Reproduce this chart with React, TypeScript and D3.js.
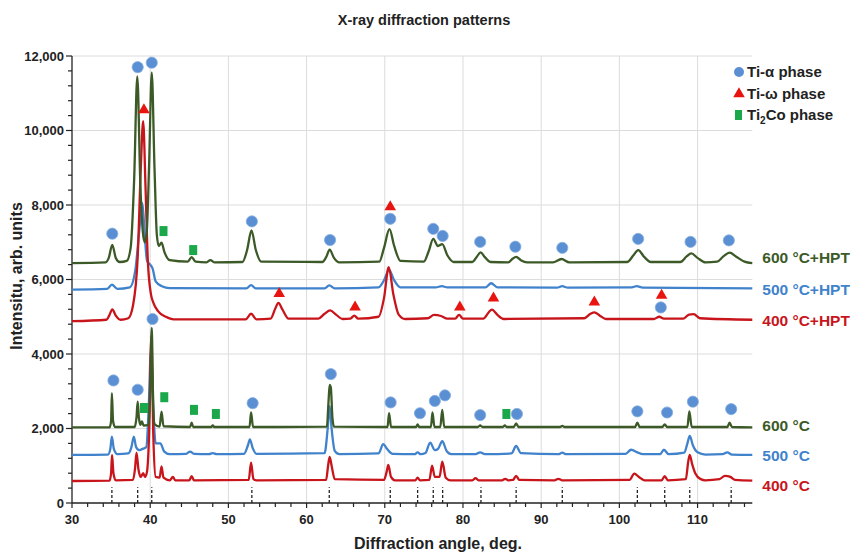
import React from "react";
import * as d3 from "d3";

type Pt = [number, number];

// ---------- data ----------
const xTickLabels = [30, 40, 50, 60, 70, 80, 90, 100, 110];
const yTickLabels = [0, 2000, 4000, 6000, 8000, 10000, 12000];

const seriesNames = ["600 °C+HPT", "500 °C+HPT", "400 °C+HPT", "600 °C", "500 °C", "400 °C"];

const hpt600: Pt[] = [[30,6440],[34.3,6460],[34.7,6580],[35.15,6930],[35.6,6580],[36.1,6470],[37.0,6500],[37.5,6850],[37.95,8700],[38.35,11450],[38.75,8500],[39.05,7300],[39.3,7000],[39.55,7250],[39.85,9000],[40.2,11550],[40.55,9000],[40.85,7200],[41.1,6900],[41.45,6990],[41.8,6750],[42.5,6520],[44.8,6480],[45.3,6600],[45.8,6480],[47.2,6460],[47.7,6520],[48.2,6460],[51.8,6470],[52.4,6800],[52.95,7320],[53.5,6800],[54.2,6480],[62.0,6470],[62.5,6600],[62.95,6800],[63.5,6580],[64.2,6460],[69.3,6480],[69.9,6850],[70.6,7350],[71.2,6900],[72.0,6500],[75.0,6480],[75.6,6750],[76.2,7090],[76.8,6900],[77.35,6950],[78.0,6650],[78.8,6470],[81.2,6470],[81.8,6620],[82.25,6730],[82.8,6600],[83.5,6470],[85.8,6460],[86.3,6550],[86.8,6610],[87.4,6520],[88.2,6460],[91.5,6460],[92.6,6550],[93.6,6460],[101.0,6470],[101.8,6650],[102.4,6790],[103.2,6600],[104.0,6470],[107.8,6470],[108.6,6620],[109.2,6700],[110.0,6580],[111.0,6460],[112.5,6480],[113.3,6620],[114.1,6720],[114.9,6620],[116.0,6480],[117,6440]];

const hpt500: Pt[] = [[30,5730],[34.5,5750],[35.1,5860],[35.8,5750],[37.4,5790],[38.1,6250],[38.6,7300],[39.0,8050],[39.3,7200],[39.6,6500],[40.0,6400],[40.3,6300],[40.7,5950],[41.5,5820],[42.5,5770],[52.3,5760],[52.9,5850],[53.5,5760],[62.3,5760],[62.9,5840],[63.6,5760],[69.2,5790],[69.9,5980],[70.55,6260],[71.2,5980],[72.0,5790],[76.5,5790],[77.3,5820],[78.0,5790],[82.9,5790],[83.6,5900],[84.4,5790],[92.0,5780],[92.7,5820],[93.4,5780],[101.6,5790],[102.2,5820],[103.0,5780],[117,5760]];

const hpt400: Pt[] = [[30,4880],[34.4,4920],[34.8,5050],[35.15,5200],[35.6,5030],[36.2,4920],[37.2,4960],[37.8,5300],[38.4,6600],[38.8,9000],[39.1,10250],[39.4,8500],[39.7,6500],[40.1,5600],[40.4,5380],[41.0,5150],[42.0,5000],[43.0,4930],[52.2,4930],[52.9,5080],[53.6,4930],[55.4,4950],[56.0,5220],[56.4,5370],[56.9,5200],[57.7,4950],[61.5,4950],[62.3,5080],[63.0,5170],[63.8,5050],[64.6,4940],[65.6,4950],[66.1,5030],[66.6,4950],[69.2,5000],[69.9,5500],[70.5,6330],[71.1,5600],[71.8,5050],[72.6,4940],[75.5,4960],[76.3,5050],[77.2,5020],[78.0,4950],[79.0,4950],[79.5,5050],[80.0,4950],[82.6,4950],[83.3,5120],[83.7,5190],[84.4,5050],[85.2,4940],[95.5,4960],[96.3,5080],[96.8,5120],[97.5,5030],[98.3,4940],[104.4,4940],[105.1,5000],[105.7,4950],[108.2,4950],[108.9,5060],[109.5,5070],[110.3,4960],[117,4920]];

const ann600: Pt[] = [[30,2030],[34.8,2030],[35.0,2200],[35.1,2950],[35.25,2200],[35.5,2040],[38.0,2040],[38.25,2300],[38.4,2720],[38.55,2300],[38.75,2100],[38.95,2190],[39.15,2080],[39.8,2100],[40.0,3000],[40.2,4700],[40.35,3000],[40.55,2120],[41.2,2050],[41.45,2450],[41.7,2060],[45.1,2040],[45.3,2160],[45.5,2040],[47.8,2040],[48.0,2080],[48.2,2040],[52.7,2040],[52.9,2430],[53.15,2040],[62.6,2050],[62.8,2700],[62.95,3170],[63.1,3100],[63.3,2300],[63.5,2050],[70.35,2040],[70.55,2410],[70.8,2040],[74.0,2040],[74.2,2110],[74.4,2040],[75.9,2040],[76.1,2430],[76.35,2040],[77.1,2040],[77.35,2500],[77.6,2040],[81.9,2040],[82.2,2080],[82.5,2040],[85.1,2040],[85.35,2080],[85.6,2040],[86.5,2040],[86.8,2140],[87.1,2040],[92.4,2040],[92.7,2070],[93.0,2040],[102.0,2040],[102.3,2160],[102.6,2040],[105.5,2040],[105.8,2110],[106.1,2040],[108.7,2040],[108.95,2460],[109.25,2040],[113.8,2040],[114.1,2160],[114.4,2040],[117,2030]];

const ann500: Pt[] = [[30,1290],[34.6,1300],[34.9,1450],[35.1,1780],[35.35,1450],[35.8,1310],[37.2,1330],[37.6,1500],[37.9,1780],[38.2,1500],[38.6,1420],[39.1,1460],[39.5,1500],[39.8,2500],[40.1,4100],[40.4,2500],[40.7,1600],[41.3,1600],[41.8,1380],[42.5,1310],[44.6,1320],[45.1,1380],[45.6,1320],[47.5,1310],[48.0,1340],[48.5,1310],[52.0,1320],[52.5,1550],[52.75,1710],[53.1,1480],[53.6,1320],[62.3,1340],[62.7,2000],[62.95,2600],[63.2,2000],[63.6,1400],[64.2,1310],[69.2,1330],[69.8,1580],[70.3,1450],[71.0,1320],[73.8,1310],[74.2,1360],[74.6,1310],[75.2,1340],[75.8,1620],[76.4,1420],[76.8,1450],[77.35,1660],[77.9,1400],[78.5,1310],[81.6,1310],[82.2,1360],[82.8,1310],[86.2,1330],[86.8,1530],[87.4,1340],[92.2,1310],[92.7,1350],[93.2,1310],[100.8,1320],[101.5,1430],[102.3,1360],[103.0,1310],[105.2,1310],[105.7,1430],[106.3,1310],[108.3,1350],[108.7,1600],[109.0,1800],[109.4,1550],[110.0,1360],[111.0,1300],[113.2,1310],[113.8,1360],[114.4,1300],[117,1290]];

const ann400: Pt[] = [[30,590],[34.8,600],[35.0,800],[35.12,1290],[35.3,800],[35.6,610],[37.8,620],[38.05,900],[38.25,1350],[38.5,900],[38.8,700],[39.1,800],[39.35,700],[39.6,850],[39.85,1800],[40.15,4500],[40.4,1800],[40.7,700],[41.2,680],[41.45,980],[41.7,680],[42.5,610],[42.9,700],[43.2,610],[45.0,610],[45.3,720],[45.6,610],[52.6,620],[52.9,1080],[53.2,640],[53.6,610],[62.5,620],[62.75,1000],[62.95,1240],[63.2,1000],[63.6,640],[69.9,620],[70.25,850],[70.45,1020],[70.8,700],[71.3,610],[73.9,610],[74.2,680],[74.5,610],[75.7,620],[76.05,1000],[76.4,700],[77.0,700],[77.35,1110],[77.8,680],[78.4,610],[81.2,610],[81.6,670],[82.0,610],[85.0,610],[85.4,650],[85.8,610],[86.4,620],[86.8,730],[87.2,620],[91.7,610],[92.2,650],[92.7,610],[101.3,620],[101.9,790],[102.5,700],[103.2,610],[105.4,610],[105.8,720],[106.2,610],[108.5,640],[108.8,1100],[109.0,1290],[109.3,1050],[109.7,800],[110.4,640],[111.0,610],[112.8,640],[113.5,730],[114.2,700],[114.8,620],[117,600]];

const alphaMarks: Pt[] = [[35.15,7230],[38.4,11700],[40.2,11820],[53.0,7560],[63.0,7060],[70.7,7630],[76.2,7360],[77.4,7170],[82.2,7010],[86.7,6880],[92.7,6850],[102.4,7090],[109.1,7010],[114.0,7050],[105.3,5250],[35.3,3290],[38.4,3040],[40.3,4940],[53.1,2680],[63.1,3460],[70.75,2700],[74.5,2410],[76.4,2740],[77.7,2890],[82.2,2360],[86.9,2390],[102.3,2460],[106.1,2430],[109.4,2720],[114.3,2520]];
const omegaMarks: Pt[] = [[39.2,10550],[70.7,7950],[56.5,5620],[66.2,5260],[79.6,5260],[83.9,5500],[96.8,5390],[105.4,5570]];
const ti2coMarks: Pt[] = [[41.7,7300],[45.5,6790],[39.2,2550],[41.8,2840],[45.6,2500],[48.4,2390],[85.55,2390]];

const peakLines = [35.1, 38.4, 40.2, 53.0, 62.9, 70.7, 74.2, 76.2, 77.4, 82.3, 86.8, 92.7, 102.3, 105.8, 109.0, 114.3];

// ---------- drawing ----------
const W = 865, H = 556;
const FONT = "'Liberation Sans', Arial, sans-serif";
const GREEN = "#3c5a27", BLUE = "#4082cb", RED = "#c8151b";

export default function App() {
  const x = d3.scaleLinear().domain([30, 117]).range([72, 752.3]);
  const y = d3.scaleLinear().domain([0, 12000]).range([503, 56]);
  const line = d3.line<Pt>().x(d => x(d[0])).y(d => y(d[1])).curve(d3.curveMonotoneX);

  const series: { data: Pt[]; color: string; name: string; dy: number }[] = [
    { data: hpt500, color: BLUE, name: seriesNames[1], dy: 1 },
    { data: hpt400, color: RED, name: seriesNames[2], dy: 1 },
    { data: hpt600, color: GREEN, name: seriesNames[0], dy: -6 },
    { data: ann500, color: BLUE, name: seriesNames[4], dy: 0 },
    { data: ann400, color: RED, name: seriesNames[5], dy: 5 },
    { data: ann600, color: GREEN, name: seriesNames[3], dy: -2 },
  ];

  const xMinor = d3.range(30, 117, 2);
  const yMinor = d3.range(0, 12001, 400);
  const tri = d3.symbol(d3.symbolTriangle).size(58)();

  return (
    <svg width={W} height={H} style={{ position: "absolute", left: 0, top: 0, background: "#fff" }} fontFamily={FONT}>
      <text x={424} y={25} textAnchor="middle" fontWeight="bold" fontSize={14.5} fill="#222">X-ray diffraction patterns</text>

      {/* grid */}
      {xTickLabels.filter(v => v > 30).map(v => (
        <line key={"gx" + v} x1={x(v)} x2={x(v)} y1={y(12000)} y2={y(0)} stroke="#dcdcdc" strokeWidth={1} />
      ))}
      {yTickLabels.filter(v => v > 0).map(v => (
        <line key={"gy" + v} x1={x(30)} x2={x(117)} y1={y(v)} y2={y(v)} stroke="#dcdcdc" strokeWidth={1} />
      ))}

      {/* axes */}
      <line x1={x(30)} x2={x(30)} y1={y(0)} y2={y(12000)} stroke="#222" strokeWidth={1.3} />
      <line x1={x(30)} x2={x(117)} y1={y(0)} y2={y(0)} stroke="#222" strokeWidth={1.3} />
      {yMinor.map(v => (
        <line key={"ty" + v} x1={x(30) - (v % 2000 === 0 ? 6 : 4)} x2={x(30)} y1={y(v)} y2={y(v)} stroke="#222" strokeWidth={1.2} />
      ))}
      {xMinor.map(v => (
        <line key={"tx" + v} x1={x(v)} x2={x(v)} y1={y(0)} y2={y(0) + (v % 10 === 0 ? 5 : 4)} stroke="#222" strokeWidth={1.2} />
      ))}
      {yTickLabels.map(v => (
        <text key={"ly" + v} x={x(30) - 8} y={y(v)} dy="0.36em" textAnchor="end" fontWeight="bold" fontSize={13} fill="#222">{d3.format(",")(v)}</text>
      ))}
      {xTickLabels.map(v => (
        <text key={"lx" + v} x={x(v)} y={y(0) + 21} textAnchor="middle" fontWeight="bold" fontSize={13} fill="#222">{v}</text>
      ))}
      <text x={438} y={549} textAnchor="middle" fontWeight="bold" fontSize={16} fill="#222">Diffraction angle, deg.</text>
      <text transform={`translate(22,${276}) rotate(-90)`} textAnchor="middle" fontWeight="bold" fontSize={16} fill="#222">Intensitu, arb. units</text>

      {/* reference peak positions */}
      {peakLines.map(v => (
        <line key={"pl" + v} x1={x(v)} x2={x(v)} y1={y(0)} y2={y(420)} stroke="#222" strokeWidth={1.3} strokeDasharray="3,2" />
      ))}

      {/* curves */}
      {series.map(s => (
        <path key={s.name} d={line(s.data) || ""} fill="none" stroke={s.color} strokeWidth={2.3} strokeLinejoin="round" />
      ))}
      {series.map(s => (
        <text key={"n" + s.name} x={x(117) + 10} y={y(s.data[s.data.length - 1][1]) + s.dy} dy="0.36em" fontWeight="bold" fontSize={15.5} fill={s.color}>{s.name}</text>
      ))}

      {/* phase markers */}
      {alphaMarks.map((d, i) => (
        <circle key={"a" + i} cx={x(d[0])} cy={y(d[1])} r={5.6} fill="#5b8fd3" stroke="#86aee0" strokeWidth={0.8} />
      ))}
      {omegaMarks.map((d, i) => (
        <path key={"o" + i} d={tri || ""} transform={`translate(${x(d[0])},${y(d[1])})`} fill="#e8140f" />
      ))}
      {ti2coMarks.map((d, i) => (
        <rect key={"c" + i} x={x(d[0]) - 4} y={y(d[1]) - 5} width={8} height={10} fill="#1ba84a" />
      ))}

      {/* legend */}
      <g fontWeight="bold" fontSize={15} fill="#222">
        <circle cx={739} cy={72} r={5} fill="#5b8fd3" />
        <text x={747} y={72} dy="0.36em">Ti-α phase</text>
        <path d={tri || ""} transform="translate(739,94)" fill="#e8140f" />
        <text x={747} y={94} dy="0.36em">Ti-ω phase</text>
        <rect x={735} y={110} width={7} height={10} fill="#1ba84a" />
        <text x={747} y={115} dy="0.36em">Ti<tspan fontSize={10} dy="4">2</tspan><tspan dy="-4">Co phase</tspan></text>
      </g>
    </svg>
  );
}
